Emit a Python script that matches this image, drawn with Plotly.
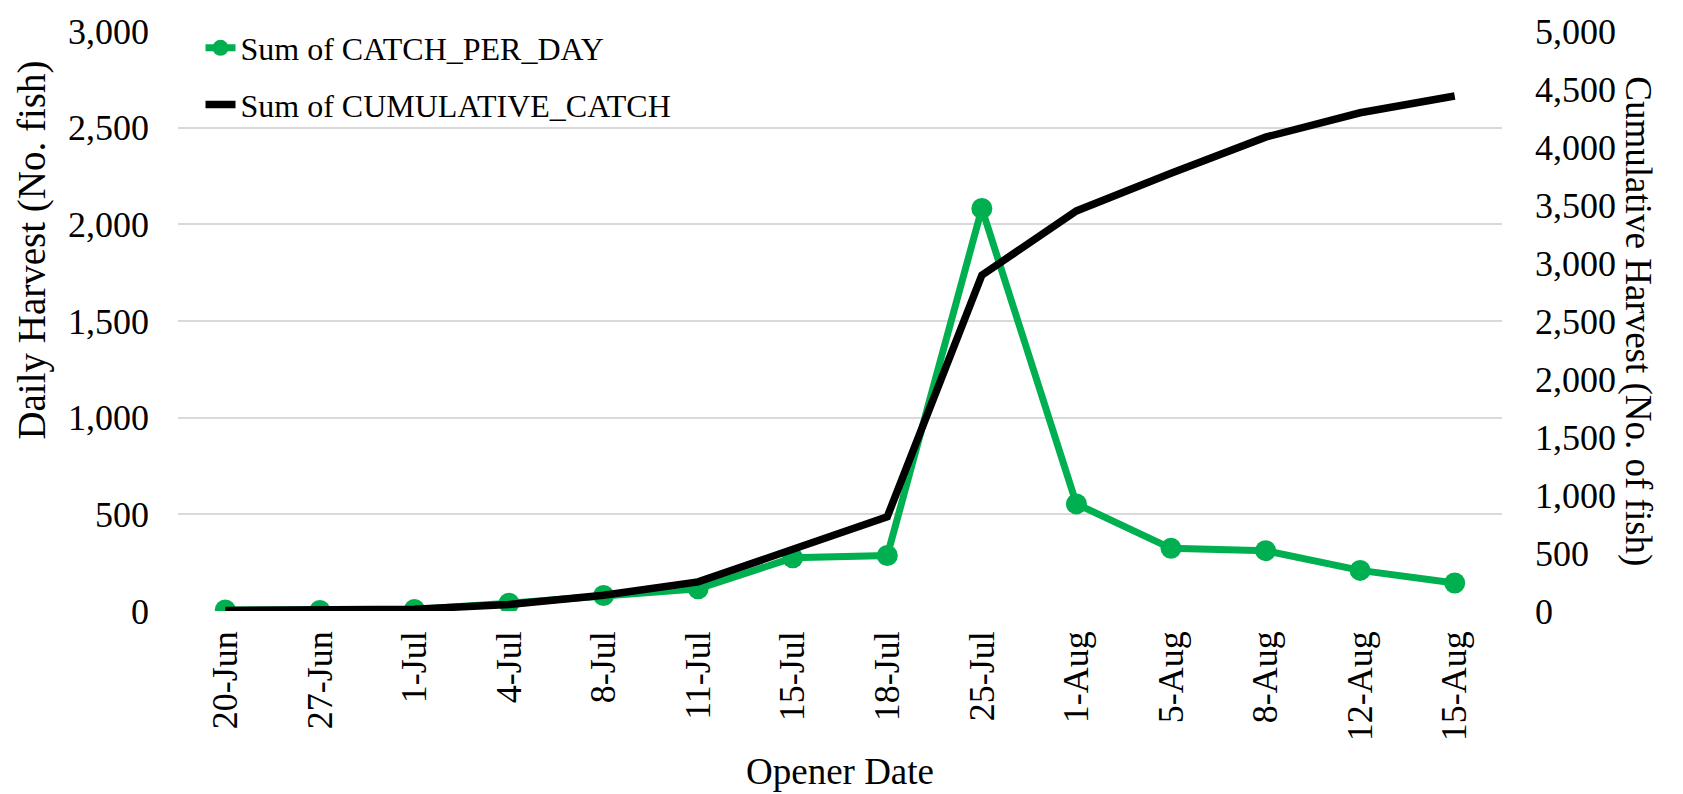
import plotly.graph_objects as go

# ---- data ----
dates = ["20-Jun", "27-Jun", "1-Jul", "4-Jul", "8-Jul", "11-Jul", "15-Jul",
         "18-Jul", "25-Jul", "1-Aug", "5-Aug", "8-Aug", "12-Aug", "15-Aug"]
catch_per_day = [5, 3, 8, 40, 80, 115, 275, 287, 2082, 554, 324, 312, 210, 145]
cumulative_catch = [5, 8, 16, 56, 136, 251, 526, 813, 2895, 3449, 3773, 4085, 4295, 4440]

left_ticks = [0, 500, 1000, 1500, 2000, 2500, 3000]
right_ticks = [0, 500, 1000, 1500, 2000, 2500, 3000, 3500, 4000, 4500, 5000]

FONT = "Times New Roman, Liberation Serif, serif"
GREEN = "#00B050"

fig = go.Figure()
fig.add_trace(go.Scatter(
    x=dates, y=catch_per_day, name="Sum of CATCH_PER_DAY",
    mode="lines+markers", line=dict(color=GREEN, width=7),
    marker=dict(size=21, color=GREEN), legendgroup="a"))
fig.add_trace(go.Scatter(
    x=dates, y=cumulative_catch, name="Sum of CUMULATIVE_CATCH",
    mode="lines", line=dict(color="black", width=7.5), yaxis="y2", legendgroup="b"))

fig.update_layout(
    width=1683, height=794,
    margin=dict(l=178, r=181, t=25, b=183),
    paper_bgcolor="white", plot_bgcolor="white",
    font=dict(family=FONT, color="black", size=36),
    showlegend=True,
    legend=dict(x=0.017, y=1.018, xanchor="left", yanchor="top",
                font=dict(family=FONT, size=32, color="black"),
                bgcolor="rgba(0,0,0,0)", tracegroupgap=12, itemwidth=30),
    xaxis=dict(type="category", range=[-0.5, len(dates) - 0.5],
               tickangle=-90, showgrid=False, zeroline=False, showline=False,
               ticks="", tickfont=dict(size=36), ticklabelstandoff=12),
    yaxis=dict(range=[0, 3000], tickvals=left_ticks, tickformat=",",
               showgrid=True, gridcolor="#D9D9D9", gridwidth=1.5,
               zeroline=False, showline=False, ticks="",
               tickfont=dict(size=36), ticklabelstandoff=28),
    yaxis2=dict(range=[0, 5000], tickvals=right_ticks, tickformat=",",
                overlaying="y", side="right", showgrid=False,
                zeroline=False, showline=False, ticks="",
                tickfont=dict(size=36), ticklabelstandoff=32),
    annotations=[
        dict(text="Daily Harvest (No. fish)", textangle=-90,
             xref="paper", yref="paper", x=-0.11, y=0.622,
             xanchor="center", yanchor="middle", showarrow=False,
             font=dict(size=39)),
        dict(text="Cumulative Harvest (No. of fish)", textangle=90,
             xref="paper", yref="paper", x=1.1025, y=0.5,
             xanchor="center", yanchor="middle", showarrow=False,
             font=dict(size=37)),
        dict(text="Opener Date", xref="paper", yref="paper",
             x=0.5, y=-0.277, xanchor="center", yanchor="middle",
             showarrow=False, font=dict(size=37)),
    ],
)

fig.write_html("out.html", config={"displayModeBar": False},
               post_script="document.body.style.margin='0';document.body.style.overflow='hidden';")
